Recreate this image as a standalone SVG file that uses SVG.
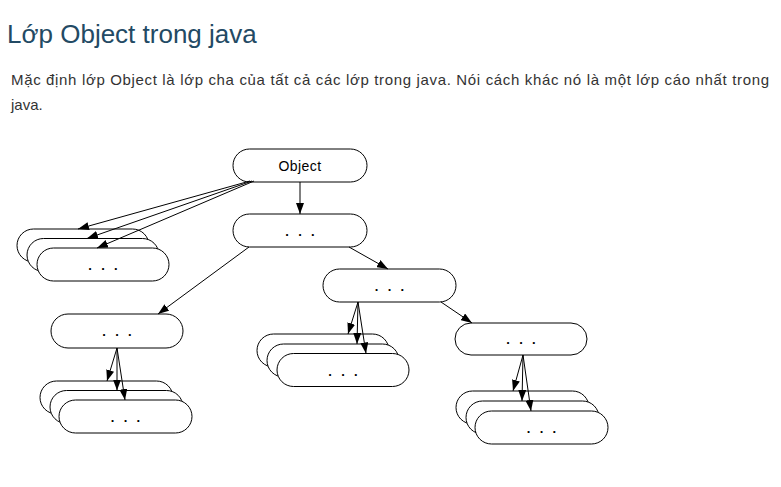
<svg xmlns="http://www.w3.org/2000/svg" width="781" height="487" viewBox="0 0 781 487">
<style>
.pill{fill:#fff;stroke:#000;stroke-width:1}
.dots{font-family:"Liberation Sans",Arial,sans-serif;font-size:13px;font-weight:bold;letter-spacing:2.8px;text-anchor:middle;fill:#000}
.lbl{font-family:"Liberation Sans",Arial,sans-serif;font-size:14px;letter-spacing:0.4px;text-anchor:middle;fill:#000}
.con line{stroke:#000;stroke-width:1;marker-end:url(#ah)}
.title{font-family:"Liberation Sans",Arial,sans-serif;font-size:26px;fill:#234a64}
.para{font-family:"Liberation Sans",Arial,sans-serif;font-size:15px;fill:#333}
</style>
<defs>
<marker id="ah" markerUnits="userSpaceOnUse" markerWidth="11" markerHeight="8" refX="11" refY="4" orient="auto">
<path d="M0,0 L11,4 L0,8 z" fill="#000"/>
</marker>
</defs>
<rect width="781" height="487" fill="#fff"/>
<text class="title" x="7" y="43">Lớp Object trong java</text>
<text class="para" x="11" y="85" textLength="758" lengthAdjust="spacing">Mặc định lớp Object là lớp cha của tất cả các lớp trong java. Nói cách khác nó là một lớp cáo nhất trong</text>
<text class="para" x="11" y="110">java.</text>

<g id="node-object">
<rect class="pill" x="233" y="149" width="134" height="33" rx="16.5"/>
<text class="lbl" x="300" y="171">Object</text>
</g>
<g id="node-2">
<rect class="pill" x="233" y="214" width="134" height="33" rx="16.5"/>
<text class="dots" x="301.4" y="236">. . .</text>
</g>
<g id="stack-left">
<rect class="pill" x="17" y="229" width="132" height="33" rx="16.5"/>
<rect class="pill" x="27" y="238.5" width="132" height="33" rx="16.5"/>
<rect class="pill" x="37" y="248" width="132" height="33" rx="16.5"/>
<text class="dots" x="104.4" y="270">. . .</text>
</g>
<g id="node-3">
<rect class="pill" x="51" y="314" width="132" height="34" rx="17"/>
<text class="dots" x="118.4" y="336">. . .</text>
</g>
<g id="stack-3">
<rect class="pill" x="40" y="381" width="133" height="33" rx="16.5"/>
<rect class="pill" x="50" y="390.5" width="133" height="33" rx="16.5"/>
<rect class="pill" x="59" y="400" width="133" height="33" rx="16.5"/>
<text class="dots" x="126.9" y="422">. . .</text>
</g>
<g id="node-4">
<rect class="pill" x="323" y="269" width="133" height="33" rx="16.5"/>
<text class="dots" x="390.9" y="291">. . .</text>
</g>
<g id="stack-4">
<rect class="pill" x="257" y="334" width="132" height="33" rx="16.5"/>
<rect class="pill" x="267" y="344" width="132" height="33" rx="16.5"/>
<rect class="pill" x="277" y="353.5" width="132" height="33" rx="16.5"/>
<text class="dots" x="344.4" y="375.5">. . .</text>
</g>
<g id="node-5">
<rect class="pill" x="455" y="323" width="132" height="32" rx="16"/>
<text class="dots" x="522.4" y="344">. . .</text>
</g>
<g id="stack-5">
<rect class="pill" x="456" y="391" width="133" height="33" rx="16.5"/>
<rect class="pill" x="466" y="401" width="133" height="33" rx="16.5"/>
<rect class="pill" x="475" y="411" width="133" height="33" rx="16.5"/>
<text class="dots" x="542.9" y="433">. . .</text>
</g>

<g id="connectors" class="con">
<line x1="250" y1="181" x2="78" y2="229"/>
<line x1="252" y1="181" x2="87" y2="238.5"/>
<line x1="254" y1="181" x2="97" y2="248"/>
<line x1="300" y1="182" x2="300" y2="214"/>
<line x1="249" y1="247" x2="158" y2="314"/>
<line x1="349" y1="247" x2="388" y2="269"/>
<line x1="441" y1="302" x2="472" y2="323"/>
<line x1="117" y1="348" x2="107" y2="381"/>
<line x1="117" y1="348" x2="117" y2="390.5"/>
<line x1="117" y1="348" x2="125" y2="400"/>
<line x1="358" y1="302" x2="348" y2="334"/>
<line x1="358" y1="302" x2="357" y2="344"/>
<line x1="358" y1="302" x2="366" y2="353.5"/>
<line x1="523" y1="355" x2="513" y2="391"/>
<line x1="523" y1="355" x2="522" y2="401"/>
<line x1="523" y1="355" x2="531" y2="411"/>
</g>
</svg>
